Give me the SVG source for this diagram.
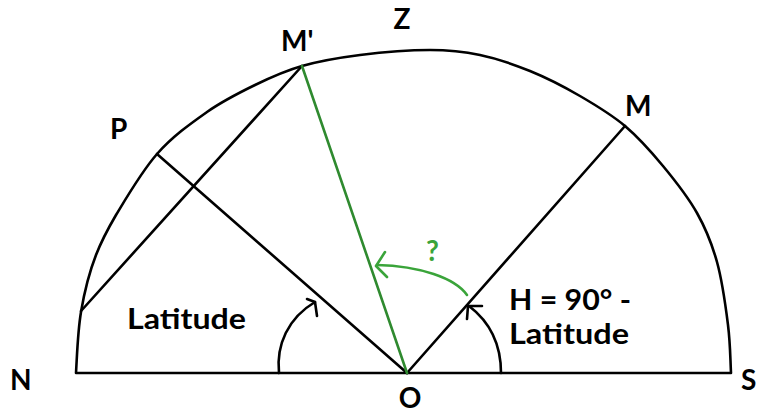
<svg xmlns="http://www.w3.org/2000/svg" width="757" height="414" viewBox="0 0 757 414">
<style>
.ln{fill:none;stroke:#000;stroke-width:2.6;stroke-linecap:round;stroke-linejoin:round}
.gl{fill:none;stroke:#2f8a2f;stroke-width:2.6;stroke-linecap:round}
.ga{fill:none;stroke:#3aa43a;stroke-width:2.6;stroke-linecap:round;stroke-linejoin:round}
.lb{font-family:Lato,"Open Sans","Liberation Sans",sans-serif;font-weight:bold;font-size:28px;fill:#000}
.gt{font-family:Lato,"Open Sans","Liberation Sans",sans-serif;font-weight:bold;font-size:28px;fill:#3aa43a}
</style>
<rect width="757" height="414" fill="#fff"/>
<g id="sky">
<path class="ln" d="M76,373 C77.2,352.7 77.7,331.7 81,312 C84.3,292.3 89.5,271.7 96,255 C102.5,238.3 107.5,229.5 116,215 C126,198.5 141.5,171.7 157,154 C172.5,136.3 190.7,123.5 207,112 C223.3,100.5 239.2,92.7 255,85 C270.8,77.3 284.5,71 302,66 C319.5,61 338.7,57.7 360,55 C381.3,52.3 410,50 430,50 C450,50 463.3,51.5 480,55 C496.7,58.5 513.3,64.2 530,71 C546.7,77.8 564.2,86.8 580,96 C595.8,105.2 611.2,114.3 625,126 C638.8,137.7 651,151.5 663,166 C675,180.5 688,197 697,213 C706,229 711.8,243.3 717,262 C722.2,280.7 725.7,306.5 728,325 C730.3,343.5 730.2,357 731,373 Z"/>
</g>
<g id="connectors">
<line class="ln" x1="157" y1="154" x2="407" y2="373"/>
<line class="ln" x1="302" y1="66" x2="81" y2="311"/>
<line class="ln" x1="407" y1="373" x2="625" y2="126"/>
<line class="gl" x1="302" y1="66" x2="407" y2="373"/>
<path class="ln" d="M279,373 C276,345 288,318 315,302"/>
<polyline class="ln" points="307,299 315,302 317,316"/>
<path class="ln" d="M501,373 C501,345 490,322 469,306"/>
<polyline class="ln" points="482,306 468,306 467,319"/>
<path class="ga" d="M467,295 C455,278 420,266 377,265"/>
<polyline class="ga" points="385,252 376,266 387,277"/>
</g>
<g id="label-Z"><text class="lb" x="402" y="29" text-anchor="middle">Z</text></g>
<g id="label-Mprime"><text class="lb" x="281" y="51">M'</text></g>
<g id="label-M"><text class="lb" x="625" y="116">M</text></g>
<g id="label-P"><text class="lb" x="110" y="139">P</text></g>
<g id="label-N"><text class="lb" x="10" y="390">N</text></g>
<g id="label-O"><text class="lb" x="410" y="408" text-anchor="middle">O</text></g>
<g id="label-S"><text class="lb" x="741" y="390">S</text></g>
<g id="label-latitude"><text class="lb" x="127" y="329" textLength="119" lengthAdjust="spacingAndGlyphs">Latitude</text></g>
<g id="label-H"><text class="lb" x="509" y="310" textLength="122" lengthAdjust="spacingAndGlyphs">H = 90° -</text><text class="lb" x="509" y="344" textLength="120" lengthAdjust="spacingAndGlyphs">Latitude</text></g>
<g id="label-q"><text class="gt" x="426" y="261">?</text></g>
</svg>
